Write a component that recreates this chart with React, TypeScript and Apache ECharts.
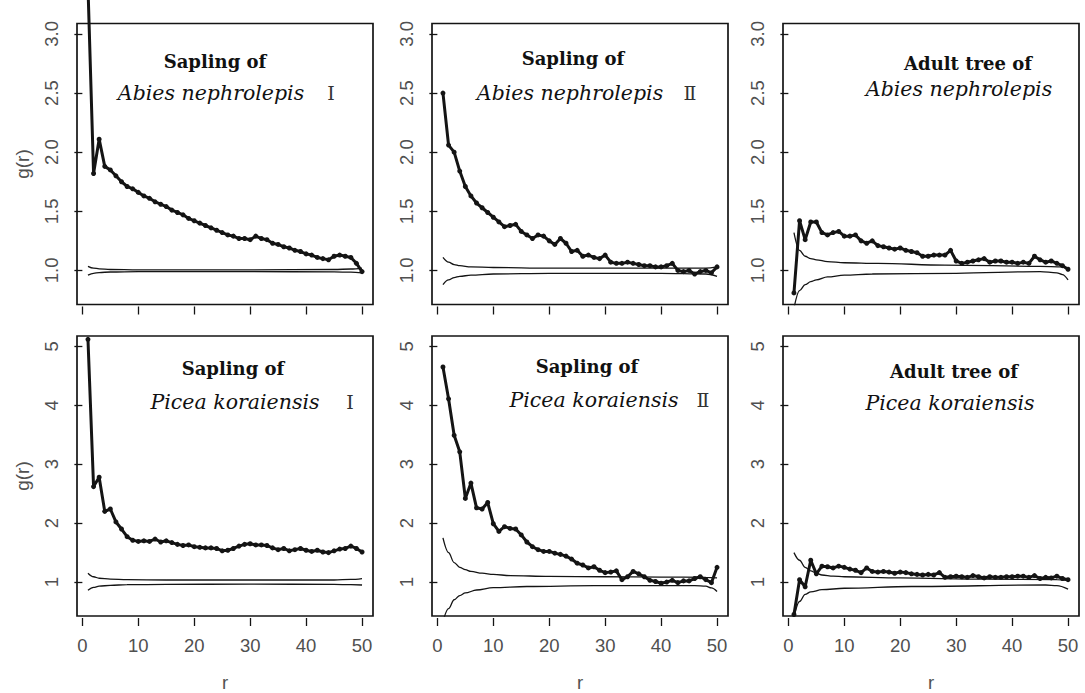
import React, { useEffect, useRef } from "react";
import * as echarts from "echarts";

// Distance r (m) at which the pair-correlation function g(r) was evaluated
const distances = [
  1, 2, 3, 4, 5, 6, 7, 8, 9, 10, 11, 12, 13, 14, 15, 16, 17, 18, 19, 20, 21, 22, 23, 24, 25,
  26, 27, 28, 29, 30, 31, 32, 33, 34, 35, 36, 37, 38, 39, 40, 41, 42, 43, 44, 45, 46, 47, 48, 49, 50,
];

// Observed g(r)
const abiesSapling1 = [
  3.4, 1.82, 2.11, 1.88, 1.85, 1.8, 1.75, 1.71, 1.69, 1.66, 1.63, 1.61, 1.58, 1.56, 1.54, 1.51, 1.49,
  1.47, 1.44, 1.42, 1.4, 1.38, 1.36, 1.34, 1.32, 1.3, 1.29, 1.27, 1.27, 1.26, 1.29, 1.27, 1.26, 1.23,
  1.22, 1.2, 1.19, 1.17, 1.16, 1.14, 1.13, 1.11, 1.1, 1.09, 1.12, 1.13, 1.12, 1.11, 1.06, 0.99,
];
const abiesSapling2 = [
  2.5, 2.06, 2.0, 1.84, 1.71, 1.63, 1.57, 1.53, 1.49, 1.45, 1.41, 1.37, 1.38, 1.39, 1.33, 1.3, 1.27,
  1.3, 1.29, 1.25, 1.22, 1.27, 1.23, 1.16, 1.17, 1.12, 1.13, 1.11, 1.1, 1.13, 1.07, 1.06, 1.06, 1.07,
  1.06, 1.05, 1.04, 1.04, 1.03, 1.03, 1.04, 1.06, 1.0, 0.99, 1.0, 0.97, 0.99, 1.0, 0.98, 1.03,
];
const abiesAdult = [
  0.81, 1.42, 1.26, 1.41, 1.41, 1.32, 1.3, 1.32, 1.33, 1.29, 1.29, 1.3, 1.25, 1.23, 1.25, 1.21, 1.2,
  1.19, 1.18, 1.19, 1.17, 1.16, 1.15, 1.12, 1.12, 1.13, 1.13, 1.13, 1.17, 1.08, 1.06, 1.07, 1.08, 1.09,
  1.1, 1.07, 1.08, 1.08, 1.07, 1.07, 1.06, 1.07, 1.06, 1.12, 1.09, 1.07, 1.08, 1.06, 1.04, 1.01,
];
const piceaSapling1 = [
  5.12, 2.62, 2.78, 2.2, 2.24, 2.02, 1.9, 1.77, 1.71, 1.69, 1.7, 1.69, 1.73, 1.68, 1.7, 1.67, 1.64,
  1.62, 1.63, 1.6, 1.59, 1.58, 1.58, 1.57, 1.53, 1.54, 1.57, 1.61, 1.64, 1.65, 1.63, 1.63, 1.62, 1.58,
  1.55, 1.57, 1.53, 1.55, 1.57, 1.54, 1.52, 1.54, 1.51, 1.5, 1.53, 1.56, 1.57, 1.61, 1.57, 1.51,
];
const piceaSapling2 = [
  4.65, 4.11, 3.49, 3.21, 2.42, 2.68, 2.26, 2.24, 2.35, 1.99, 1.86, 1.94, 1.91, 1.9, 1.8, 1.68, 1.6,
  1.55, 1.52, 1.52, 1.49, 1.47, 1.44, 1.39, 1.32, 1.29, 1.24, 1.26, 1.2, 1.16, 1.17, 1.19, 1.04, 1.09,
  1.18, 1.14, 1.09, 1.03, 1.01, 0.98, 1.0, 1.03, 0.99, 1.02, 1.02, 1.06, 1.09, 1.04, 0.99, 1.25,
];
const piceaAdult = [
  0.45, 1.04, 0.92, 1.37, 1.14, 1.27, 1.26, 1.24, 1.27, 1.25, 1.22, 1.2, 1.16, 1.24, 1.18, 1.17, 1.18,
  1.17, 1.15, 1.17, 1.16, 1.14, 1.13, 1.12, 1.13, 1.12, 1.16, 1.08, 1.09, 1.1, 1.09, 1.08, 1.11, 1.09,
  1.07, 1.09, 1.08, 1.08, 1.09, 1.09, 1.1, 1.1, 1.08, 1.11, 1.06, 1.08, 1.07, 1.1, 1.06, 1.04,
];

// Simulation envelopes, [r, g(r)]
const abiesSapling1Upper = [[1, 1.035], [2, 1.02], [3, 1.013], [5, 1.008], [10, 1.005], [30, 1.005], [45, 1.008], [48, 1.012], [50, 1.02]];
const abiesSapling1Lower = [[1, 0.96], [2, 0.975], [3, 0.982], [5, 0.987], [10, 0.99], [30, 0.99], [45, 0.988], [48, 0.985], [50, 0.98]];
const abiesSapling2Upper = [[1, 1.11], [2, 1.07], [3, 1.05], [4, 1.04], [6, 1.03], [10, 1.025], [20, 1.02], [40, 1.02], [48, 1.02], [50, 1.03]];
const abiesSapling2Lower = [[1, 0.88], [2, 0.92], [3, 0.94], [4, 0.95], [6, 0.96], [10, 0.97], [20, 0.975], [40, 0.975], [48, 0.97], [50, 0.95]];
const abiesAdultUpper = [[1, 1.32], [2, 1.17], [3, 1.12], [4, 1.1], [5, 1.09], [7, 1.075], [10, 1.065], [16, 1.06], [28, 1.045], [45, 1.035], [49, 1.03], [50, 1.02]];
const abiesAdultLower = [[1, 0.68], [2, 0.83], [3, 0.88], [4, 0.905], [5, 0.92], [7, 0.945], [10, 0.96], [15, 0.97], [30, 0.976], [45, 0.99], [48, 0.98], [49, 0.965], [50, 0.92]];
const piceaSapling1Upper = [[1, 1.15], [2, 1.09], [3, 1.065], [5, 1.05], [8, 1.04], [15, 1.035], [30, 1.035], [45, 1.035], [48, 1.045], [50, 1.06]];
const piceaSapling1Lower = [[1, 0.86], [2, 0.91], [3, 0.93], [5, 0.945], [8, 0.955], [15, 0.96], [30, 0.965], [45, 0.96], [48, 0.955], [50, 0.95]];
const piceaSapling2Upper = [[1, 1.75], [2, 1.5], [3, 1.33], [4, 1.25], [5, 1.21], [6, 1.18], [8, 1.15], [10, 1.13], [13, 1.11], [20, 1.095], [30, 1.09], [40, 1.085], [48, 1.08], [50, 1.07]];
const piceaSapling2Lower = [[1, 0.33], [2, 0.55], [3, 0.7], [4, 0.77], [5, 0.815], [7, 0.865], [10, 0.905], [16, 0.925], [28, 0.94], [46, 0.94], [48, 0.93], [49, 0.9], [50, 0.84]];
const piceaAdultUpper = [[1, 1.5], [2, 1.37], [3, 1.25], [4, 1.19], [5, 1.15], [6, 1.12], [8, 1.1], [10, 1.09], [20, 1.07], [35, 1.05], [48, 1.04], [50, 1.03]];
const piceaAdultLower = [[1, 0.4], [2, 0.67], [3, 0.79], [4, 0.835], [6, 0.87], [10, 0.895], [22, 0.925], [46, 0.95], [48, 0.94], [50, 0.88]];

// Tick labels
const xTicks = [0, 10, 20, 30, 40, 50];
const yTicksAbies = [1.0, 1.5, 2.0, 2.5, 3.0];
const yTicksPicea = [1, 2, 3, 4, 5];

// Panel headings
const headings = ["Sapling of", "Sapling of", "Adult tree of", "Sapling of", "Sapling of", "Adult tree of"];
const species = [
  "Abies nephrolepis", "Abies nephrolepis", "Abies nephrolepis",
  "Picea koraiensis", "Picea koraiensis", "Picea koraiensis",
];
const numerals = ["Ⅰ", "Ⅱ", "", "Ⅰ", "Ⅱ", ""];

const observed = [abiesSapling1, abiesSapling2, abiesAdult, piceaSapling1, piceaSapling2, piceaAdult];
const uppers = [abiesSapling1Upper, abiesSapling2Upper, abiesAdultUpper, piceaSapling1Upper, piceaSapling2Upper, piceaAdultUpper];
const lowers = [abiesSapling1Lower, abiesSapling2Lower, abiesAdultLower, piceaSapling1Lower, piceaSapling2Lower, piceaAdultLower];

// Layout (px)
const COL_LEFT = [77, 432, 783];
const PANEL_W = 296;
const ROW_TOP = [23.5, 336];
const ROW_H = [281, 282];
const X_RANGE = [-0.96, 51.96];
const Y_RANGE = [
  [0.712, 3.088],
  [0.424, 5.176],
];

// Heading positions: [headingX, headingY, speciesX, speciesY, numeralX]
const HEAD_POS = [
  [215, 61, 211, 93, 331],
  [573, 58, 570, 93, 690],
  [968, 63, 959, 89, 0],
  [233, 368, 235, 402, 350],
  [587, 366, 594, 400, 703],
  [954, 371, 950, 403, 0],
];

const INK = "#141414";
const TICK_TEXT = "#505050";
const SANS = "'Liberation Sans', Arial, sans-serif";
const SERIF = "'DejaVu Serif', 'Liberation Serif', serif";

function buildOption(): echarts.EChartsOption {
  const grids: any[] = [];
  const xAxes: any[] = [];
  const yAxes: any[] = [];
  const series: any[] = [];
  const graphics: any[] = [];

  for (let i = 0; i < 6; i++) {
    const row = i < 3 ? 0 : 1;
    const col = i % 3;
    grids.push({
      left: COL_LEFT[col],
      top: ROW_TOP[row],
      width: PANEL_W,
      height: ROW_H[row],
      show: true,
      borderColor: INK,
      borderWidth: 1.7,
      backgroundColor: "transparent",
    });
    xAxes.push({
      type: "value",
      gridIndex: i,
      min: X_RANGE[0],
      max: X_RANGE[1],
      offset: 2,
      axisLine: { show: false },
      axisTick: { show: true, length: 8, customValues: xTicks, lineStyle: { color: INK, width: 1.3 } },
      axisLabel: {
        show: row === 1,
        customValues: xTicks,
        margin: 18,
        fontSize: 18.5,
        color: TICK_TEXT,
        fontFamily: SANS,
      },
      splitLine: { show: false },
      name: row === 1 ? "r" : "",
      nameLocation: "middle",
      nameGap: 55,
      nameTextStyle: { fontSize: 18.5, color: TICK_TEXT, fontFamily: SANS },
    });
    const yTicks = row === 0 ? yTicksAbies : yTicksPicea;
    yAxes.push({
      type: "value",
      gridIndex: i,
      min: Y_RANGE[row][0],
      max: Y_RANGE[row][1],
      offset: 2,
      axisLine: { show: false },
      axisTick: { show: true, length: 8, customValues: yTicks, lineStyle: { color: INK, width: 1.3 } },
      axisLabel: {
        show: true,
        customValues: yTicks,
        rotate: 90,
        margin: 14,
        fontSize: 18.5,
        color: TICK_TEXT,
        fontFamily: SANS,
        formatter: (v: number) => (row === 0 ? v.toFixed(1) : String(Math.round(v))),
      },
      splitLine: { show: false },
      name: col === 0 ? "g(r)" : "",
      nameLocation: "middle",
      nameRotate: 90,
      nameGap: 43,
      nameTextStyle: { fontSize: 19, color: TICK_TEXT, fontFamily: SANS },
    });

    const env = {
      type: "line",
      xAxisIndex: i,
      yAxisIndex: i,
      showSymbol: false,
      smooth: 0.35,
      smoothMonotone: "x",
      lineStyle: { color: INK, width: 1.3 },
      z: 2,
    };
    series.push({ ...env, name: `upper-${i}`, data: uppers[i] });
    series.push({ ...env, name: `lower-${i}`, data: lowers[i] });
    series.push({
      type: "line",
      name: `observed-${i}`,
      xAxisIndex: i,
      yAxisIndex: i,
      data: distances.map((r, k) => [r, observed[i][k]]),
      symbol: "circle",
      symbolSize: 5,
      showSymbol: true,
      clip: i !== 0,
      itemStyle: { color: INK },
      lineStyle: { color: INK, width: 3 },
      z: 3,
    });

    const [hx, hy, sx, sy, nx] = HEAD_POS[i];
    graphics.push({
      type: "text",
      x: hx,
      y: hy,
      style: {
        text: headings[i],
        fill: "#111",
        font: `bold 18px ${SERIF}`,
        textAlign: "center",
        textVerticalAlign: "middle",
      },
    });
    graphics.push({
      type: "text",
      x: sx,
      y: sy,
      style: {
        text: species[i],
        fill: "#111",
        font: `italic 20.5px ${SERIF}`,
        textAlign: "center",
        textVerticalAlign: "middle",
      },
    });
    if (numerals[i]) {
      graphics.push({
        type: "text",
        x: nx,
        y: sy,
        style: {
          text: numerals[i],
          fill: "#333",
          font: `19px ${SERIF}`,
          textAlign: "center",
          textVerticalAlign: "middle",
        },
      });
    }
  }

  return {
    animation: false,
    backgroundColor: "#ffffff",
    grid: grids,
    xAxis: xAxes,
    yAxis: yAxes,
    series,
    graphic: graphics,
  } as echarts.EChartsOption;
}

export default function App() {
  const ref = useRef<HTMLDivElement>(null);
  useEffect(() => {
    if (!ref.current) return;
    const chart = echarts.init(ref.current, undefined, { renderer: "svg" });
    chart.setOption(buildOption());
    return () => chart.dispose();
  }, []);
  return (
    <div
      ref={ref}
      style={{ position: "absolute", left: 0, top: 0, width: 1085, height: 693, background: "#fff" }}
    />
  );
}
